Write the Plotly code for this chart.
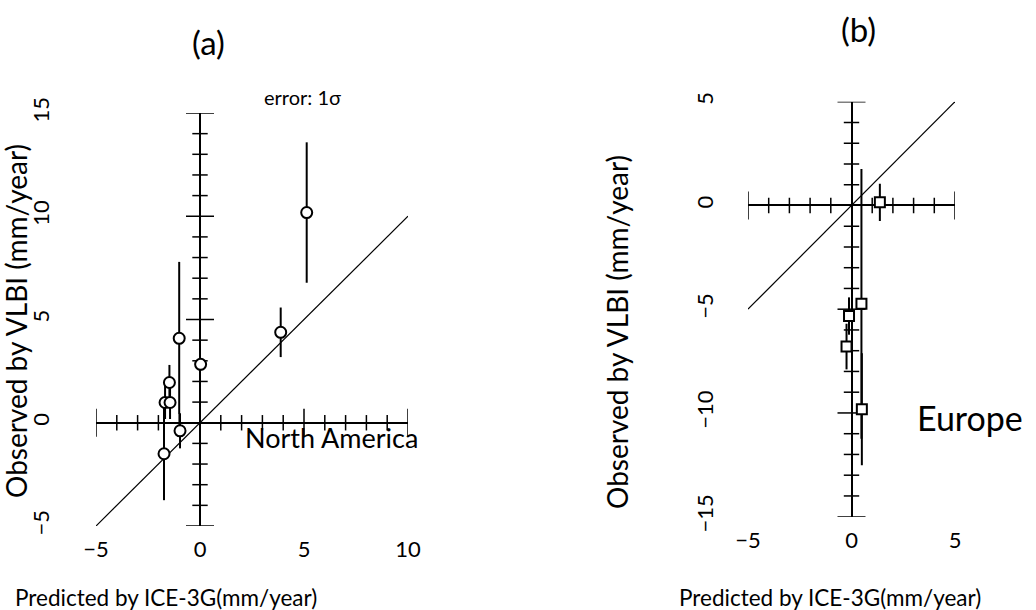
import plotly.graph_objects as go

# ---- data ----
a_x = [5.13, 3.88, -1.00, -0.96, 0.03, -1.68, -1.44, -1.47, -1.73]
a_y = [10.18, 4.38, 4.09, -0.39, 2.83, 0.98, 0.98, 1.95, -1.50]
a_err = [3.4, 1.2, 3.7, 0.85, 0.3, 0.8, 0.8, 0.85, 2.25]

b_x = [1.37, 0.48, 0.50, -0.12, -0.24]
b_y = [0.15, -4.74, -9.82, -5.33, -6.80]
b_err = [0.9, 6.5, 2.7, 0.9, 1.1]

a_xrange = [-5, 10]
a_yrange = [-5, 15]
b_xrange = [-5, 5]
b_yrange = [-15, 5]

a_xticks = [-5, 0, 5, 10]
a_yticks = [-5, 0, 5, 10, 15]
b_xticks = [-5, 0, 5]
b_yticks = [-15, -10, -5, 0, 5]

FONT = "Lato"

fig = go.Figure()


def cross_ticks(xr, yr, xa, ya):
    xs = list(range(xr[0], xr[1] + 1))
    ys = list(range(yr[0], yr[1] + 1))
    xmin = [v for v in xs if v % 5 != 0]
    xmaj = [v for v in xs if v % 5 == 0 and v != 0]
    ymin = [v for v in ys if v % 5 != 0]
    ymaj = [v for v in ys if v % 5 == 0 and v != 0]
    for vals, size in ((xmin, 11), (xmaj, 20)):
        fig.add_trace(go.Scatter(x=vals, y=[0] * len(vals), mode="markers",
                                 xaxis=xa, yaxis=ya, hoverinfo="skip",
                                 marker=dict(symbol="line-ns", size=size,
                                             line=dict(color="black", width=1.5))))
    for vals, size in ((ymin, 11), (ymaj, 20)):
        fig.add_trace(go.Scatter(x=[0] * len(vals), y=vals, mode="markers",
                                 xaxis=xa, yaxis=ya, hoverinfo="skip",
                                 marker=dict(symbol="line-ew", size=size,
                                             line=dict(color="black", width=1.5))))


cross_ticks(a_xrange, a_yrange, "x", "y")
cross_ticks(b_xrange, b_yrange, "x2", "y2")

# 1:1 lines
fig.add_trace(go.Scatter(x=a_xrange, y=a_xrange, mode="lines", xaxis="x", yaxis="y",
                         line=dict(color="black", width=1.2), hoverinfo="skip"))
fig.add_trace(go.Scatter(x=b_xrange, y=b_xrange, mode="lines", xaxis="x2", yaxis="y2",
                         line=dict(color="black", width=1.2), hoverinfo="skip"))

# data
fig.add_trace(go.Scatter(x=a_x, y=a_y, mode="markers", xaxis="x", yaxis="y",
                         error_y=dict(type="data", array=a_err, width=0, thickness=2, color="black"),
                         marker=dict(symbol="circle", size=11, color="white",
                                     line=dict(color="black", width=2))))
fig.add_trace(go.Scatter(x=b_x, y=b_y, mode="markers", xaxis="x2", yaxis="y2",
                         error_y=dict(type="data", array=b_err, width=0, thickness=2, color="black"),
                         marker=dict(symbol="square", size=10, color="white",
                                     line=dict(color="black", width=2))))

W, H = 1036, 610


def px(x):
    return x / W


def py(y):
    return 1 - y / H


axis_common = dict(showgrid=False, showline=False, ticks="", zeroline=True,
                   zerolinecolor="black", zerolinewidth=1.5, automargin=False,
                   tickfont=dict(family=FONT, size=22, color="black"))

fig.update_layout(
    template="none",
    width=W, height=H, showlegend=False,
    margin=dict(l=0, r=0, t=0, b=0, autoexpand=False),
    paper_bgcolor="white", plot_bgcolor="white",
    font=dict(family=FONT, color="black"),
    xaxis=dict(domain=[px(96), px(408)], range=a_xrange, tickvals=a_xticks,
               anchor="y", ticklabelstandoff=8, **axis_common),
    yaxis=dict(domain=[py(526), py(113)], range=a_yrange, tickvals=a_yticks,
               anchor="x", tickangle=-90, ticklabelstandoff=42, **axis_common),
    xaxis2=dict(domain=[px(748), px(955)], range=b_xrange, tickvals=b_xticks,
                anchor="y2", ticklabelstandoff=8, **axis_common),
    yaxis2=dict(domain=[py(516.7), py(101.7)], range=b_yrange, tickvals=b_yticks,
                anchor="x2", tickangle=-90, ticklabelstandoff=30, **axis_common),
)

ann = [
    dict(text="(a)", x=px(208), y=py(42), size=33),
    dict(text="(b)", x=px(858), y=py(29), size=33),
    dict(text="error: 1σ", x=px(302), y=py(97), size=20),
    dict(text="North America", x=px(331), y=py(437), size=27),
    dict(text="Europe", x=px(970), y=py(417), size=34),
    dict(text="Predicted by ICE-3G(mm/year)", x=px(166), y=py(597), size=22.5),
    dict(text="Predicted by ICE-3G(mm/year)", x=px(830), y=py(597), size=22.5),
]
for a in ann:
    fig.add_annotation(text=a["text"], x=a["x"], y=a["y"], xref="paper", yref="paper",
                       showarrow=False, xanchor="center", yanchor="middle",
                       font=dict(family=FONT, size=a["size"], color="black"))
for xc, yc in ((16, 321), (617, 332)):
    fig.add_annotation(text="Observed by VLBI (mm/year)", x=px(xc), y=py(yc),
                       xref="paper", yref="paper", showarrow=False, textangle=-90,
                       xanchor="center", yanchor="middle",
                       font=dict(family=FONT, size=28, color="black"))

fig.write_html("out.html")
